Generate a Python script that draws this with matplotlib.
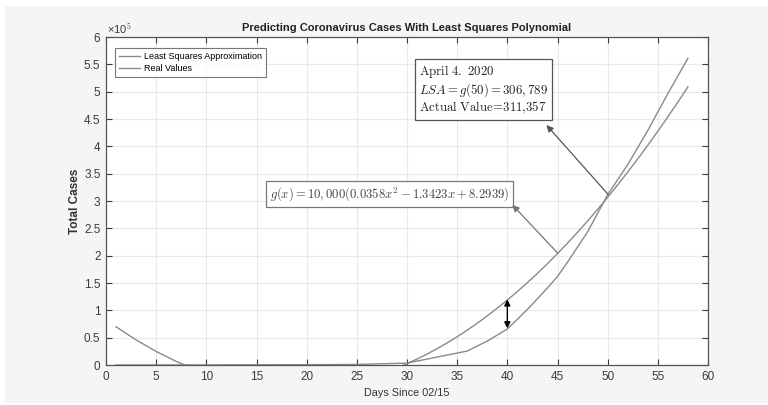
import numpy as np
import matplotlib
matplotlib.use("Agg")
import matplotlib.pyplot as plt
from matplotlib.patches import Rectangle

plt.rcParams['font.family'] = ['Liberation Sans Narrow', 'Liberation Sans', 'DejaVu Sans']
plt.rcParams['mathtext.fontset'] = 'cm'

# least squares polynomial g(x), values at selected days
lsa_days = [1, 3, 5, 7, 9, 11, 15, 19, 23, 27, 29, 30, 31, 32, 33, 34, 35, 36, 37, 38, 39,
            40, 41, 42, 43, 44, 45, 46, 47, 48, 49, 50, 51, 52, 53, 54, 55, 56, 57, 58]
lsa_vals = [69874, 45892, 24774, 6520, -8870, -21396, -37856, -42860, -36408, -18500, -5250,
            2449, 10864, 19995, 29842, 40405, 51684, 63679, 76390, 89817, 103960,
            118819, 134394, 150685, 167692, 185415, 203854, 223009, 242880, 263467, 284770,
            306789, 329524, 352975, 377142, 402025, 427624, 453939, 480970, 508717]

# real case counts
real_days = [1, 10, 20, 25, 30, 36, 38, 40, 42, 44, 45, 46, 48, 50, 52, 54, 56, 58]
real_vals = [15, 70, 600, 1000, 3500, 25500, 43800, 65800, 101700, 140900, 161800,
             188200, 243600, 311357, 366667, 429052, 496535, 561000]

fig = plt.figure(figsize=(7.68, 4.05), dpi=100, facecolor='white')
fig.patches.append(Rectangle((5/768, 2/405), 1, 397/405, transform=fig.transFigure,
                             facecolor='#f4f5f5', edgecolor='none', zorder=-10))
ax = fig.add_axes([106/768, 1 - 365/405, 602/768, 328/405])
ax.set_facecolor('white')

line_col = '#8a8a8a'
ax.plot(lsa_days, lsa_vals, color=line_col, lw=1.0, label='Least Squares Approximation')
ax.plot(real_days, real_vals, color=line_col, lw=1.0, label='Real Values')

ax.set_xlim(0, 60)
ax.set_ylim(0, 6e5)
ax.set_xticks(range(0, 61, 5))
yt = np.arange(0, 6.01, 0.5)
ax.set_yticks(yt * 1e5)
ax.set_yticklabels([('%g' % v) for v in yt])
ax.grid(True, color='#e8eaea', lw=0.8)
ax.set_axisbelow(True)
ax.tick_params(direction='in', top=True, right=True, length=4, width=0.8,
               labelsize=8.5, colors='#3a3a3a', pad=4)
for s in ax.spines.values():
    s.set_color('#555555')
    s.set_linewidth(0.9)

ax.text(0.002, 1.004, '×10$^{\\mathsf{5}}$', transform=ax.transAxes, ha='left', va='bottom',
        fontsize=8, color='#3a3a3a')
ax.set_title('Predicting Coronavirus Cases With Least Squares Polynomial',
             fontsize=8, fontweight='bold', color='#222222', pad=4)
ax.set_xlabel('Days Since 02/15', fontsize=7.8, color='#333333', labelpad=4)
ax.set_ylabel('Total Cases', fontsize=8.5, fontweight='bold', color='#333333', labelpad=2)

leg = ax.legend(loc='upper left', bbox_to_anchor=(0.015, 0.966), borderaxespad=0,
                fontsize=6.5, frameon=True, fancybox=False, handlelength=2.3,
                borderpad=0.45, labelspacing=0.35, handletextpad=0.5)
leg.get_frame().set_edgecolor('#555555')
leg.get_frame().set_linewidth(0.8)

# info box for April 4
ax.text(31.2, 4.55e5,
        r'$\mathrm{April\ 4.\ 2020}$' + '\n' + r'$LSA = g(50) = 306,789$' + '\n'
        + r'$\mathrm{Actual\ Value}\!=\!\mathrm{311{,}357}$',
        fontsize=9.2, color='#222222', ha='left', va='bottom', linespacing=1.08,
        bbox=dict(boxstyle='square,pad=0.3', facecolor='white', edgecolor='#555555', lw=0.9))
ax.annotate('', xy=(43.9, 4.39e5), xytext=(50.05, 3.12e5),
            arrowprops=dict(arrowstyle='-|>', color='#555555', lw=0.9,
                            mutation_scale=10, shrinkA=0, shrinkB=0))

# polynomial label
ax.text(28.3, 3.13e5, r'$g(x) = 10,000(0.0358x^2 - 1.3423x + 8.2939)$',
        fontsize=9.1, color='#444444', ha='center', va='center',
        bbox=dict(boxstyle='square,pad=0.3', facecolor='white', edgecolor='#777777', lw=0.9))
ax.annotate('', xy=(40.5, 2.93e5), xytext=(45, 2.05e5),
            arrowprops=dict(arrowstyle='-|>', color='#777777', lw=0.9,
                            mutation_scale=10, shrinkA=0, shrinkB=0))

# gap between LSA and real values at day 40
ax.annotate('', xy=(40, 1.2e5), xytext=(40, 0.67e5),
            arrowprops=dict(arrowstyle='<|-|>', color='black', lw=1.0,
                            mutation_scale=9, shrinkA=0, shrinkB=0))

fig.savefig('out.png', dpi=100, facecolor=fig.get_facecolor())
